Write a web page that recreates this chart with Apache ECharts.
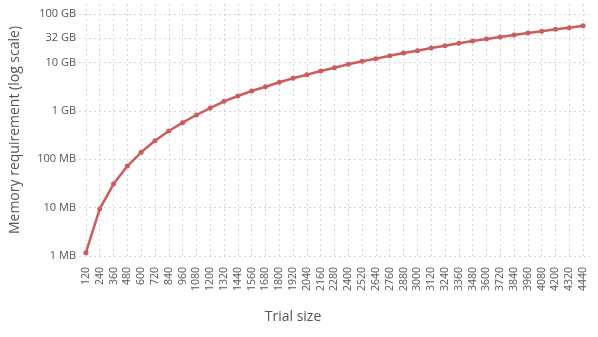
<!DOCTYPE html>
<html>
<head>
<meta charset="utf-8">
<script src="https://cdn.jsdelivr.net/npm/echarts@6/dist/echarts.min.js"></script>
<style>
html,body{margin:0;padding:0;background:#fff;}
#chart{width:598px;height:337px;}
</style>
</head>
<body>
<div id="chart"></div>
<script>
const trialSizes = [120,240,360,480,600,720,840,960,1080,1200,1320,1440,1560,1680,1800,1920,2040,2160,2280,2400,2520,2640,2760,2880,3000,3120,3240,3360,3480,3600,3720,3840,3960,4080,4200,4320,4440];
const memoryMB = [1.17,9.4,30.7,72,139,241,383,568,819,1142,1571,2020,2560,3150,3880,4690,5570,6640,7780,9140,10530,11940,13760,15640,17460,19860,22130,24800,27680,30430,33480,36830,40500,43860,48200,52100,57300];
const yTickValues = [1,10,100,1000,10000,31623,100000];

const FONT = '"Open Sans", "Noto Sans", sans-serif';
const TXT = '#555555';
const GRID = {color:'#d2d2e2', width:1, type:[2,3]};

const chart = echarts.init(document.getElementById('chart'), null, {renderer:'canvas'});
chart.setOption({
  animation:false,
  backgroundColor:'#ffffff',
  grid:{left:79, right:8, top:4, bottom:81, containLabel:false},
  xAxis:{
    type:'category',
    data:trialSizes.map(String),
    boundaryGap:true,
    axisLine:{show:false},
    axisTick:{show:false, alignWithLabel:true},
    axisLabel:{rotate:90, interval:0, margin:11, color:TXT, fontFamily:FONT, fontSize:10.5},
    splitLine:{show:true, alignWithLabel:true, interval:0, lineStyle:GRID},
    name:'Trial size',
    nameLocation:'middle',
    nameGap:54,
    nameTextStyle:{color:TXT, fontFamily:FONT, fontSize:14, padding:[0,83,0,0]}
  },
  yAxis:{
    type:'log',
    logBase:10,
    min:1,
    max:161000,
    axisLine:{show:false},
    axisTick:{show:false, customValues:yTickValues},
    axisLabel:{
      customValues:yTickValues,
      margin:3,
      color:TXT, fontFamily:FONT, fontSize:11,
      formatter:function(v){
        if (v >= 1000) return Math.round(v/1000) + ' GB';
        return Math.round(v) + ' MB';
      }
    },
    splitLine:{show:true, customValues:yTickValues, lineStyle:GRID},
    name:'Memory requirement (log scale)',
    nameLocation:'middle',
    nameGap:57,
    nameTextStyle:{color:TXT, fontFamily:FONT, fontSize:14}
  },
  series:[{
    type:'line',
    data:memoryMB,
    symbol:'circle',
    symbolSize:5,
    showSymbol:true,
    lineStyle:{color:'#cd5c5c', width:2.5},
    itemStyle:{color:'#cd5c5c'}
  }]
});
</script>
</body>
</html>
